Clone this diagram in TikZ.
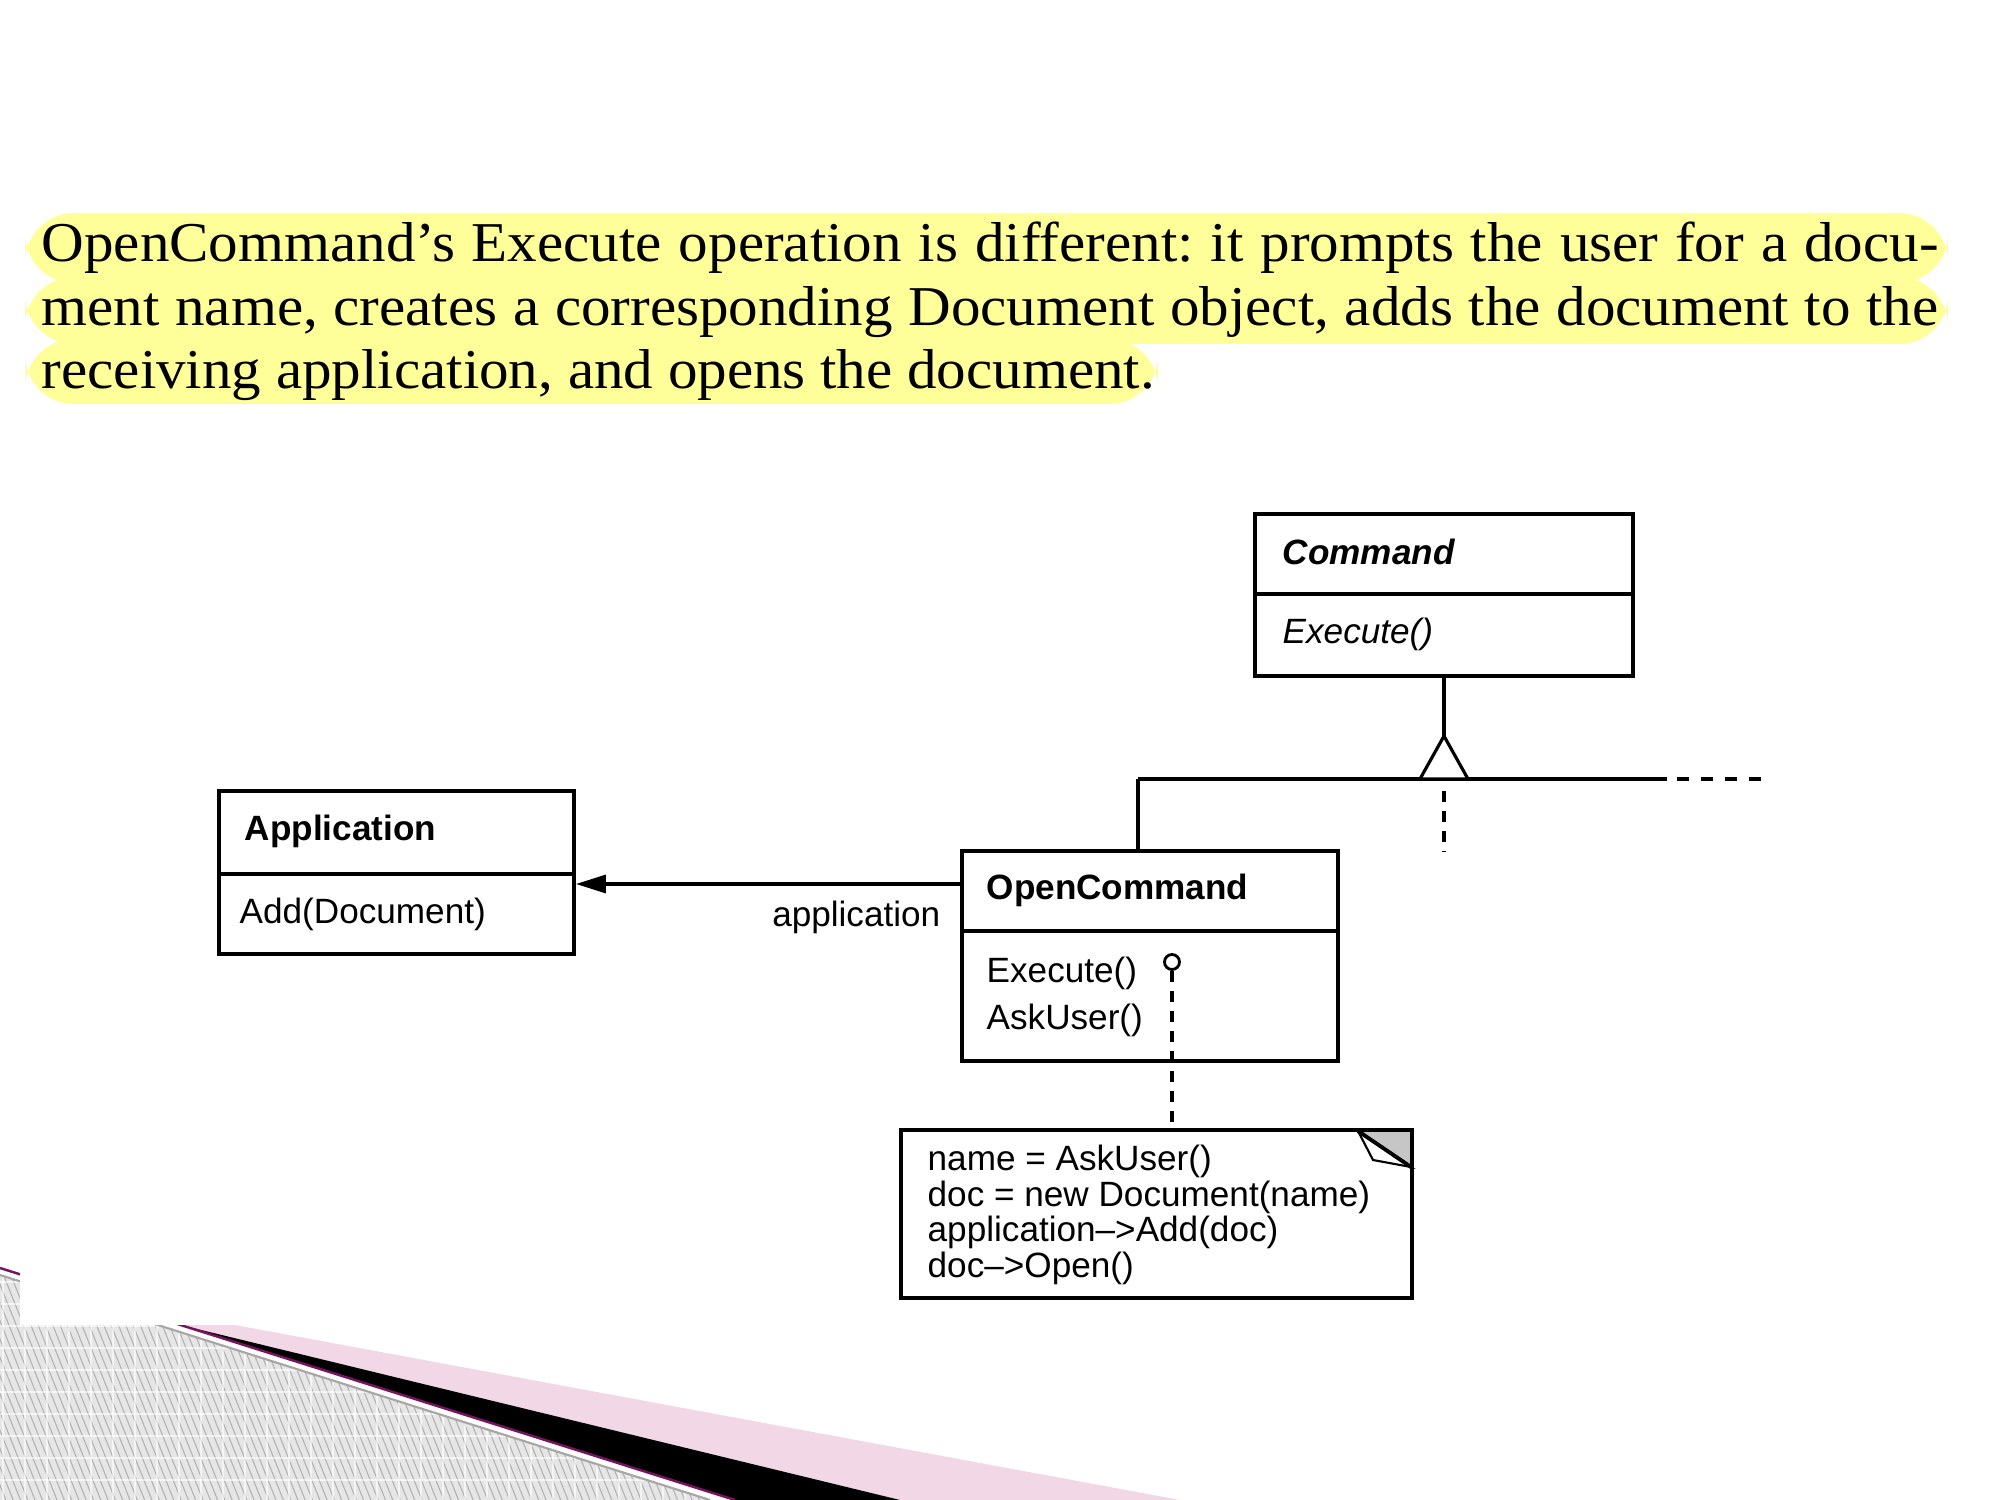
\documentclass[tikz,border=0pt]{standalone}
\usepackage{fontspec}
\setmainfont{Liberation Sans}
\newfontfamily\bodyserif[FakeStretch=1.05]{Liberation Serif}
\usetikzlibrary{arrows.meta}

\definecolor{hilite}{RGB}{255,255,153}
\definecolor{flowpink}{RGB}{242,215,230}
\definecolor{flowplum}{RGB}{120,20,95}
\definecolor{hatchbg}{RGB}{230,230,230}
\definecolor{hatchline}{RGB}{178,178,178}

\begin{document}
\frenchspacing
\begin{tikzpicture}[x=0.1mm,y=-0.1mm,
  classbox/.style={draw, line width=1.1pt, rectangle, inner sep=0pt},
  divider/.style={line width=1.1pt},
  member/.style={anchor=west, inner sep=0pt, font=\fontsize{10}{12}\selectfont},
  boldmember/.style={member, font=\bfseries\fontsize{10}{12}\selectfont},
  link/.style={line width=0.9pt},
  dashlink/.style={line width=0.9pt, dash pattern=on 1.1mm off 0.9mm},
  para/.style={anchor=base west, inner sep=0pt, font=\bodyserif\fontsize{16}{18}\selectfont}]

\useasboundingbox (0,0) rectangle (2000,1500);
\fill[white] (0,0) rectangle (2000,1500);

% ---- theme ribbons in the lower left corner ----
\fill[flowpink] (0,1281.5) -- (1180,1500) -- (900,1500) -- cycle;
\fill[black] (179,1324.6) -- (900,1500) -- (735,1500) -- cycle;
\draw[flowplum, line width=0.7pt] (0,1268) -- (735,1500);
\begin{scope}
  \clip (0,1275) -- (710,1500) -- (0,1500) -- cycle;
  \fill[hatchbg] (0,1240) rectangle (720,1500);
  \foreach \k in {0,...,118}
    \draw[hatchline, line width=0.3pt] (-120+7.3*\k,1240) -- ++(104,260);
  \foreach \k in {0,...,33}
    \draw[white, opacity=0.6, line width=0.3pt] (3+22*\k,1240) -- ++(0,260);
  \foreach \k in {0,...,10}
    \draw[white, opacity=0.6, line width=0.3pt] (0,1282+22*\k) -- ++(720,0);
\end{scope}
\draw[gray!70, line width=0.6pt] (0,1275) -- (710,1500);
\fill[white] (20,0) rectangle (2000,1325);

% ---- highlighted paragraph ----
\fill[hilite, rounded corners=14] (25,213) rectangle (1948,283);
\fill[hilite, rounded corners=14] (25,277) rectangle (1948,344);
\fill[hilite, rounded corners=14] (25,339) rectangle (1158,404);
\node[para] (line1) at (41,262)
  {\hbox to 539.7pt{OpenCommand’s Execute operation is different: it prompts the user for a docu-}};
\node[para] (line2) at (41,326)
  {\hbox to 539.7pt{ment name, creates a corresponding Document object, adds the document to the}};
\node[para] (line3) at (41,389)
  {receiving application, and opens the document.};

% ---- class boxes ----
\node[classbox, minimum width=37.8mm, minimum height=16.2mm] (cmd) at (1444,595) {};
\node[classbox, minimum width=35.5mm, minimum height=16.3mm] (app) at (396.5,872.5) {};
\node[classbox, minimum width=37.6mm, minimum height=21mm] (oc) at (1150,956) {};
\node[rectangle, inner sep=0pt, minimum width=50.9mm, minimum height=16.6mm] (note) at (1156.5,1214) {};

\coordinate (cmddiv) at (0,594);
\coordinate (appdiv) at (0,874);
\coordinate (ocdiv) at (0,931);
\draw[divider] (cmd.west |- cmddiv) -- (cmd.east |- cmddiv);
\draw[divider] (app.west |- appdiv) -- (app.east |- appdiv);
\draw[divider] (oc.west |- ocdiv) -- (oc.east |- ocdiv);

\node[member, font=\bfseries\itshape\fontsize{10}{12}\selectfont] (cmdname) at (1282,552) {Command};
\node[member, font=\itshape\fontsize{10}{12}\selectfont] (cmdop) at (1282,634) {Execute()};
\node[boldmember] (appname) at (244,831) {Application};
\node[member] (appop) at (239,914) {Add(Document)};
\node[boldmember] (ocname) at (986,890) {OpenCommand};
\node[member] (ocop1) at (986,973) {Execute()};
\node[member] (ocop2) at (986,1020) {AskUser()};

% ---- inheritance ----
\coordinate (apex) at (1444,736);
\coordinate (tl) at (1420,779);
\coordinate (tr) at (1468,779);
\coordinate (hleft) at (1138,779);
\coordinate (hsolid) at (1667,779);
\coordinate (hend) at (1764,779);
\coordinate (vtop) at (1444,791);
\coordinate (vend) at (1444,852);
\draw[link] (cmd.south) -- (apex);
\draw[link] (hleft) -- (hsolid);
\draw[link, dash pattern=on 1.2mm off 1.2mm, dash phase=-1mm] (hsolid) -- (hend);
\draw[link, fill=white, line join=miter] (apex) -- (tl) -- (tr) -- cycle;
\draw[link] (hleft) -- (hleft |- oc.north);
\draw[dashlink] (vtop) -- (vend);

% ---- association ----
\coordinate (assoc) at (0,884);
\draw[link, -{Triangle[length=3mm, width=1.8mm]}] (oc.west |- assoc) -- (app.east |- assoc);
\node[member, anchor=east] (role) at (941,917) {application};

% ---- implementation note ----
\node[circle, draw, line width=0.8pt, minimum size=1.5mm, inner sep=0pt] (knob) at (1172,962) {};
\draw[dashlink] (knob.south) -- (note.north -| knob);
\node[member, align=left, font=\fontsize{10}{10.15}\selectfont] (code) at (927,1215)
  {name = AskUser()\\doc = new Document(name)\\application–>Add(doc)\\doc–>Open()};
\fill[gray!45] (1358,1131) -- (1411,1131) -- (1411,1167) -- cycle;
\filldraw[fill=white, line width=0.6pt] (1358,1131) -- (1411,1167) -- (1373,1160) -- cycle;
\draw[line width=1.1pt] (1358,1131) -- (1411,1167);
\draw[line width=1.1pt] (note.north west) rectangle (note.south east);
\end{tikzpicture}
\end{document}
